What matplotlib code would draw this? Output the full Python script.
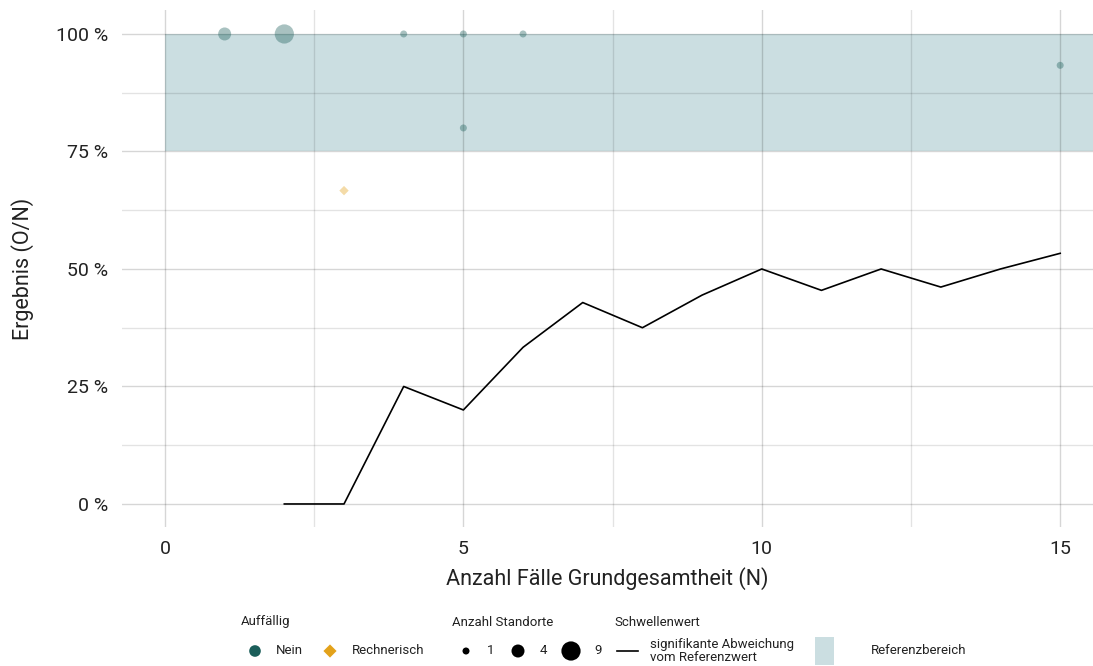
import matplotlib
matplotlib.use("Agg")
import matplotlib.pyplot as plt
import numpy as np
from matplotlib.patches import Rectangle
from matplotlib.lines import Line2D

plt.rcParams['font.family'] = ['Roboto', 'DejaVu Sans']

# ---- data ----
pts_n = [1, 2, 4, 5, 6, 5, 15]
pts_val = [100, 100, 100, 100, 100, 80, 93.33]
pts_count = [4, 9, 1, 1, 1, 1, 1]

calc_n = [3]
calc_val = [66.67]
calc_count = [1]

thr_n = [2, 3, 4, 5, 6, 7, 8, 9, 10, 11, 12, 13, 14, 15]
thr_val = [0, 0, 25, 20, 33.33, 42.86, 37.5, 44.44, 50, 45.45, 50, 46.15, 50, 53.33]

ref_low, ref_high = 75, 100

x_ticks = [0, 5, 10, 15]
y_ticks = [0, 25, 50, 75, 100]
y_ticklabels = ["0 %", "25 %", "50 %", "75 %", "100 %"]

legend_sizes = [1, 4, 9]

teal = "#1b5e5a"
orange = "#e3a21a"
band = "#cbdee1"
txt = "#222222"

W, H = 1093, 666
fig = plt.figure(figsize=(W / 100, H / 100), dpi=100)
L, R, T, B = 122, 1093, 10, 527
ax = fig.add_axes([L / W, 1 - B / H, (R - L) / W, (B - T) / H])


def size_to_s(n):
    n = np.asarray(n, dtype=float)
    area = 49 + 40 * (n - 1)          # px^2
    d = np.sqrt(area) * 0.72          # pt
    return d ** 2


ax.set_xlim(-0.72, 15.55)
ax.set_ylim(-4.9, 105.1)

ax.add_patch(Rectangle((0, ref_low), 100, ref_high - ref_low, facecolor=band,
                       edgecolor="none", zorder=0))

ax.set_xticks(x_ticks)
ax.set_xticks([2.5, 7.5, 12.5], minor=True)
ax.set_yticks(y_ticks)
ax.set_yticklabels(y_ticklabels)
ax.set_yticks([12.5, 37.5, 62.5, 87.5], minor=True)
ax.grid(which="major", color="black", alpha=0.16, linewidth=1.0, zorder=1)
ax.grid(which="minor", color="black", alpha=0.11, linewidth=1.0, zorder=1)
ax.set_axisbelow(False)
for gl in ax.get_xgridlines() + ax.get_ygridlines():
    gl.set_zorder(1)
ax.tick_params(which="both", length=0, labelsize=14, colors=txt)
ax.tick_params(axis="y", pad=10)
ax.tick_params(axis="x", pad=9)
for sp in ax.spines.values():
    sp.set_visible(False)

ax.plot(thr_n, thr_val, color="black", linewidth=1.2, zorder=3)
ax.scatter(pts_n, pts_val, s=size_to_s(pts_count), color=teal, alpha=0.38,
           edgecolors="none", zorder=4)
ax.scatter(calc_n, calc_val, s=size_to_s(calc_count) * 0.9, marker="D", color=orange,
           alpha=0.38, edgecolors="none", zorder=4)

ax.set_xlabel("Anzahl Fälle Grundgesamtheit (N)", fontsize=15.5, color=txt, labelpad=7)
ax.set_ylabel("Ergebnis (O/N)", fontsize=15.5, color=txt, labelpad=16)

# ---- legend (pixel-coordinate overlay) ----
lg = fig.add_axes([0, 0, 1, 1])
lg.set_xlim(0, W)
lg.set_ylim(H, 0)
lg.axis("off")
fs_t = 9.5
yt, yi = 622, 651
lg.text(241, yt, "Auffällig", fontsize=fs_t, va="center", ha="left", color=txt)
lg.scatter([255], [yi], s=70, color=teal, edgecolors="none")
lg.text(276, yi, "Nein", fontsize=fs_t, va="center", color=txt)
lg.scatter([330], [yi], s=45, marker="D", color=orange, edgecolors="none")
lg.text(352, yi, "Rechnerisch", fontsize=fs_t, va="center", color=txt)

lg.text(452, yt, "Anzahl Standorte", fontsize=fs_t, va="center", color=txt)
for xm, xt, n in zip([466, 518, 571], [487, 540, 594], legend_sizes):
    lg.scatter([xm], [yi], s=size_to_s([n]), color="black", edgecolors="none")
    lg.text(xt, yi, str(n), fontsize=fs_t, va="center", color=txt)

lg.text(614, yt, "Schwellenwert", fontsize=fs_t, va="center", color=txt)
lg.add_line(Line2D([617, 638], [yi, yi], color="black", linewidth=1.2))
lg.text(650, yi, "signifikante Abweichung\nvom Referenzwert", fontsize=fs_t,
        va="center", color=txt, linespacing=0.95)

lg.add_patch(Rectangle((815, 637), 19, 28, facecolor=band, edgecolor="none"))
lg.text(871, yi, "Referenzbereich", fontsize=fs_t, va="center", color=txt)

fig.savefig("out.png", dpi=100)
